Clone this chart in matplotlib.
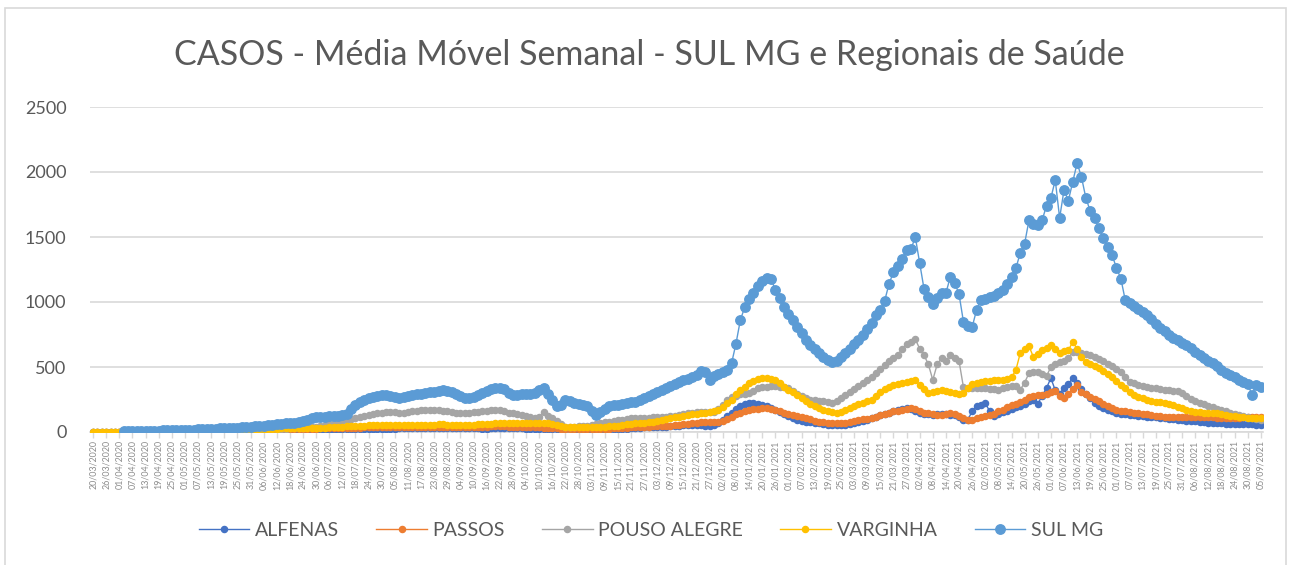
import numpy as np
import pandas as pd
import matplotlib
matplotlib.use("Agg")
import matplotlib.pyplot as plt
from matplotlib.patches import Rectangle

# ---------------- data (every 2 days, 20/03/2020 .. 05/09/2021) ----------------
start_date = "2020-03-20"
end_date = "2021-09-05"
point_dates = pd.date_range(start_date, end_date, freq="2D")
tick_dates = pd.date_range(start_date, end_date, freq="6D")

alfenas = [
    0, 0, 0, 0, 0, 0, 1, 1, 1, 1,
    1, 1, 1, 2, 2, 2, 2, 3, 3, 3,
    3, 3, 4, 4, 4, 5, 5, 5, 6, 6,
    6, 7, 7, 8, 8, 9, 9, 10, 10, 11,
    11, 12, 12, 13, 13, 14, 14, 15, 15, 16,
    16, 17, 17, 18, 18, 19, 19, 20, 20, 21,
    21, 22, 22, 23, 24, 24, 25, 25, 26, 26,
    27, 27, 28, 28, 28, 29, 29, 30, 30, 30,
    30, 31, 31, 30, 29, 28, 28, 27, 27, 26,
    26, 27, 28, 29, 30, 30, 29, 28, 27, 26,
    26, 25, 25, 24, 24, 23, 22, 21, 20, 20,
    19, 19, 18, 18, 18, 17, 17, 18, 19, 20,
    22, 24, 26, 28, 30, 33, 36, 38, 39, 40,
    40, 42, 45, 48, 50, 52, 55, 56, 55, 52,
    48, 46, 55, 70, 95, 125, 146, 175, 200, 215,
    223, 225, 218, 210, 200, 185, 170, 155, 140, 125,
    110, 96, 88, 80, 75, 70, 69, 62, 57, 54,
    52, 53, 54, 60, 68, 75, 84, 92, 105, 118,
    130, 142, 150, 160, 168, 176, 184, 178, 160, 146,
    140, 135, 131, 135, 140, 138, 132, 128, 115, 95,
    92, 161, 200, 210, 223, 160, 120, 135, 155, 165,
    175, 190, 200, 215, 235, 246, 215, 280, 338, 415,
    320, 292, 340, 370, 415, 377, 330, 292, 260, 225,
    200, 185, 172, 161, 150, 142, 136, 131, 128, 125,
    122, 119, 115, 112, 108, 104, 100, 97, 93, 90,
    88, 85, 82, 79, 76, 73, 69, 68, 66, 65,
    64, 63, 62, 62, 60, 58, 56, 55,
]

passos = [
    0, 0, 0, 0, 0, 0, 0, 1, 1, 1,
    1, 1, 1, 1, 2, 2, 2, 2, 3, 3,
    3, 4, 4, 5, 5, 6, 6, 7, 7, 8,
    8, 9, 10, 10, 11, 12, 12, 13, 14, 15,
    15, 16, 17, 18, 19, 20, 21, 22, 23, 24,
    25, 26, 27, 28, 29, 30, 30, 31, 32, 33,
    33, 34, 35, 35, 36, 36, 37, 37, 38, 38,
    38, 38, 39, 39, 40, 40, 40, 41, 41, 41,
    42, 42, 42, 41, 40, 40, 39, 39, 40, 41,
    42, 43, 44, 44, 43, 42, 41, 40, 39, 38,
    37, 36, 35, 34, 32, 30, 28, 26, 25, 24,
    23, 23, 22, 22, 22, 23, 24, 25, 26, 28,
    30, 32, 34, 36, 38, 40, 41, 42, 43, 44,
    46, 48, 50, 53, 56, 60, 64, 68, 73, 77,
    77, 77, 77, 78, 85, 100, 115, 135, 150, 160,
    169, 175, 180, 183, 184, 180, 172, 161, 150, 140,
    131, 125, 115, 107, 98, 88, 77, 74, 71, 69,
    68, 68, 69, 75, 85, 92, 98, 103, 107, 118,
    128, 140, 150, 158, 165, 172, 178, 184, 175, 160,
    150, 145, 140, 134, 131, 138, 146, 140, 125, 110,
    95, 92, 105, 115, 122, 128, 135, 161, 170, 190,
    208, 215, 230, 250, 269, 275, 282, 288, 292, 305,
    315, 280, 261, 292, 330, 361, 308, 290, 270, 255,
    235, 215, 200, 185, 172, 165, 158, 152, 148, 146,
    142, 138, 132, 126, 120, 115, 115, 114, 114, 115,
    115, 115, 114, 114, 115, 114, 113, 111, 109, 107,
    106, 108, 110, 112, 114, 115, 116, 115,
]

pouso_alegre = [
    0, 0, 0, 0, 0, 0, 0, 0, 1, 1,
    1, 1, 1, 1, 2, 2, 2, 2, 3, 3,
    3, 4, 4, 5, 5, 6, 7, 8, 9, 10,
    11, 12, 13, 14, 15, 16, 17, 18, 19, 20,
    21, 22, 23, 24, 25, 27, 29, 31, 33, 36,
    38, 42, 48, 55, 62, 70, 78, 86, 94, 100,
    108, 116, 124, 132, 140, 146, 150, 152, 154, 152,
    146, 150, 155, 160, 164, 166, 168, 169, 168, 166,
    162, 158, 154, 150, 148, 146, 148, 152, 156, 160,
    164, 167, 169, 168, 160, 150, 146, 140, 130, 120,
    112, 110, 115, 154, 120, 107, 85, 60, 42, 38,
    40, 44, 47, 50, 55, 62, 69, 75, 80, 86,
    90, 95, 100, 105, 107, 108, 110, 111, 112, 113,
    114, 115, 120, 126, 132, 138, 144, 150, 153, 154,
    154, 152, 154, 175, 210, 245, 269, 280, 290, 295,
    300, 318, 335, 346, 350, 353, 354, 350, 345, 338,
    315, 295, 280, 262, 250, 244, 240, 238, 230, 223,
    240, 262, 285, 310, 332, 354, 378, 400, 423, 455,
    485, 515, 545, 570, 595, 640, 680, 692, 715, 640,
    590, 520, 400, 520, 569, 546, 592, 570, 546, 346,
    340, 338, 335, 338, 338, 332, 328, 323, 335, 345,
    354, 354, 325, 380, 453, 458, 461, 445, 430, 500,
    520, 538, 545, 570, 615, 612, 607, 598, 590, 580,
    565, 545, 525, 505, 485, 460, 420, 385, 375, 365,
    356, 350, 342, 335, 328, 323, 320, 318, 316, 300,
    280, 255, 240, 225, 212, 200, 192, 180, 168, 158,
    150, 140, 132, 122, 112, 105, 98, 92,
]

varginha = [
    0, 0, 0, 0, 0, 0, 0, 0, 0, 1,
    1, 1, 1, 1, 1, 2, 2, 2, 2, 3,
    3, 3, 4, 4, 5, 5, 6, 7, 8, 9,
    10, 11, 12, 13, 14, 15, 17, 19, 21, 23,
    24, 25, 26, 27, 28, 29, 30, 30, 31, 31,
    32, 32, 33, 34, 36, 38, 40, 42, 44, 46,
    48, 49, 50, 51, 52, 53, 54, 54, 55, 55,
    55, 55, 54, 54, 54, 55, 55, 56, 57, 58,
    58, 57, 56, 55, 54, 54, 55, 56, 58, 60,
    62, 64, 66, 68, 69, 70, 70, 69, 69, 68,
    68, 69, 70, 69, 66, 60, 52, 45, 40, 38,
    38, 38, 39, 39, 40, 40, 41, 42, 44, 46,
    50, 54, 58, 62, 66, 69, 72, 76, 80, 85,
    95, 102, 107, 112, 118, 124, 130, 136, 140, 146,
    150, 155, 162, 169, 195, 220, 246, 290, 323, 350,
    377, 395, 408, 415, 412, 405, 400, 380, 350, 323,
    305, 285, 261, 240, 218, 200, 185, 172, 160, 152,
    146, 155, 170, 185, 200, 212, 225, 236, 246, 275,
    305, 330, 345, 360, 372, 380, 388, 395, 400, 360,
    330, 300, 310, 318, 323, 315, 305, 298, 292, 300,
    335, 369, 378, 385, 392, 395, 398, 400, 402, 410,
    420, 477, 607, 640, 660, 577, 600, 630, 650, 669,
    640, 607, 620, 630, 692, 640, 580, 538, 520, 505,
    492, 470, 445, 423, 395, 365, 338, 310, 288, 269,
    258, 250, 242, 234, 228, 220, 212, 205, 195, 185,
    172, 162, 154, 152, 150, 149, 148, 146, 140, 132,
    126, 120, 115, 113, 111, 110, 109, 108,
]

sul_mg = [
    None, None, None, None, None, None, None, 5, 6, 7,
    8, 8, 9, 10, 10, 11, 12, 13, 14, 15,
    15, 16, 17, 18, 20, 21, 22, 24, 25, 27,
    28, 30, 32, 34, 36, 38, 40, 43, 46, 50,
    53, 56, 60, 63, 66, 70, 72, 78, 85, 95,
    105, 112, 115, 118, 120, 122, 125, 128, 140, 175,
    210, 230, 245, 260, 268, 275, 282, 285, 278, 270,
    262, 270, 278, 285, 290, 295, 300, 305, 310, 315,
    320, 318, 305, 290, 275, 262, 260, 270, 285, 300,
    315, 330, 338, 340, 330, 300, 285, 288, 290, 292,
    290, 300, 320, 340, 290, 246, 200, 210, 246, 235,
    225, 215, 205, 200, 165, 130, 155, 180, 200, 205,
    210, 215, 220, 228, 232, 245, 260, 275, 290, 305,
    325, 338, 352, 368, 385, 398, 410, 420, 440, 470,
    460, 400, 430, 450, 462, 477, 530, 680, 861, 960,
    1020, 1069, 1120, 1160, 1185, 1180, 1092, 1030, 965, 910,
    860, 807, 760, 707, 670, 635, 607, 580, 555, 538,
    545, 575, 607, 640, 675, 707, 750, 795, 838, 900,
    940, 1010, 1140, 1230, 1280, 1330, 1400, 1405, 1500, 1300,
    1100, 1038, 985, 1030, 1069, 1069, 1192, 1150, 1060, 850,
    815, 807, 938, 1015, 1025, 1035, 1045, 1069, 1092, 1140,
    1192, 1260, 1377, 1450, 1630, 1600, 1590, 1630, 1740, 1800,
    1938, 1646, 1861, 1780, 1923, 2069, 1960, 1800, 1700, 1646,
    1569, 1490, 1420, 1361, 1261, 1180, 1015, 990, 970, 950,
    925, 900, 870, 830, 800, 775, 745, 725, 705, 685,
    669, 645, 615, 592, 570, 550, 530, 505, 478, 453,
    440, 425, 400, 385, 370, 285, 361, 350,
]

series_names = ["ALFENAS", "PASSOS", "POUSO ALEGRE", "VARGINHA", "SUL MG"]
series_values = [alfenas, passos, pouso_alegre, varginha, sul_mg]
series_colors = ["#4472C4", "#ED7D31", "#A5A5A5", "#FFC000", "#5B9BD5"]
y_ticks = [0, 500, 1000, 1500, 2000, 2500]

# ---------------- figure ----------------
plt.rcParams["font.family"] = ["Lato", "DejaVu Sans"]
W, H = 1291, 565
fig = plt.figure(figsize=(W / 100, H / 100), dpi=100)
fig.patch.set_facecolor("white")

# chart border
fig.patches.append(Rectangle((5 / W, -0.02), 1281 / W, 1 - 8 / H + 0.02,
                             transform=fig.transFigure, fill=False,
                             edgecolor="#D9D9D9", linewidth=1.2))

left, right = 90 / W, 1263 / W
bottom, top = 1 - 432 / H, 1 - 107 / H
ax = fig.add_axes([left, bottom, right - left, top - bottom])

t0 = pd.Timestamp(start_date)
x_days = np.array([(d - t0).days for d in point_dates])
tick_days = np.array([(d - t0).days for d in tick_dates])

for name, vals, col in zip(series_names, series_values, series_colors):
    y = np.array([np.nan if v is None else v for v in vals], dtype=float)
    if name == "SUL MG":
        ax.plot(x_days, y, color=col, lw=1.0, marker="o", ms=6.8,
                mec=col, mfc=col, label=name, zorder=5)
    else:
        ax.plot(x_days, y, color=col, lw=1.0, marker="o", ms=4.4,
                mec=col, mfc=col, label=name, zorder=3)

ax.set_ylim(0, 2500)
ax.set_xlim(-1.4, 535)
ax.set_yticks(y_ticks)
ax.set_yticklabels([str(v) for v in y_ticks], fontsize=13, color="#595959")
ax.yaxis.grid(True, color="#D9D9D9", lw=1.2)
ax.set_axisbelow(True)
ax.tick_params(axis="y", length=0, pad=17)

ax.set_xticks(tick_days)
ax.set_xticklabels([d.strftime("%d/%m/%Y") for d in tick_dates], rotation=90,
                   fontsize=6.4, color="#8C8C8C")
ax.tick_params(axis="x", length=4, color="#D9D9D9", width=1, pad=2)

for s in ["top", "right", "left"]:
    ax.spines[s].set_visible(False)
ax.spines["bottom"].set_color("#D9D9D9")
ax.spines["bottom"].set_linewidth(1.2)

fig.text(649 / W, 1 - 55 / H,
         "CASOS - Média Móvel Semanal - SUL MG e Regionais de Saúde",
         ha="center", va="center", fontsize=24.5, color="#595959")

leg = fig.legend(loc="center", bbox_to_anchor=(651 / W, 1 - 530 / H), ncol=5,
                 frameon=False, fontsize=14, handlelength=2.6,
                 handletextpad=0.3, columnspacing=1.9, labelcolor="#595959")

fig.savefig("out.png", dpi=100)
